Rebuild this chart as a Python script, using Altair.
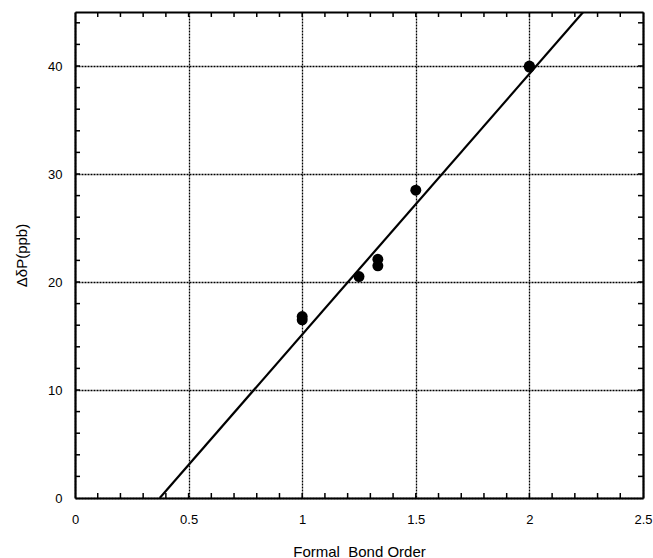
import altair as alt
import pandas as pd

# data points
bond_order = [1.0, 1.0, 1.25, 1.333, 1.333, 1.5, 2.0, 2.0]
delta_p = [16.8, 16.5, 20.5, 22.1, 21.5, 28.5, 40.0, 39.9]

# fitted line endpoints
fit_x = [0.373, 2.237]
fit_y = [0.0, 45.0]

x_major = [0, 0.5, 1, 1.5, 2, 2.5]
y_major = [0, 10, 20, 30, 40]
x_minor = [round(i * 0.1, 1) for i in range(1, 25)]
y_minor = [i * 2 for i in range(1, 23)]

pts = pd.DataFrame({"x": bond_order, "y": delta_p})
fit = pd.DataFrame({"x": fit_x, "y": fit_y})
xt = pd.DataFrame({"v": x_minor})
yt = pd.DataFrame({"v": y_minor})

W, H = 568, 486

xs = alt.Scale(domain=[0, 2.5], nice=False, zero=False)
ys = alt.Scale(domain=[0, 45], nice=False, zero=False)

font = "Liberation Sans"

dom = dict(domain=True, domainColor="black", domainWidth=2.2, domainOpacity=1)

xaxis = alt.Axis(values=x_major, format="~g", grid=True, gridDash=[2, 1], gridColor="black",
                 gridOpacity=1, gridWidth=1.3, ticks=False, **dom,
                 labelFont=font, labelFontSize=13, labelColor="black",
                 labelPadding=15, labelFlush=False,
                 title="Formal \u00a0Bond Order", titleFont=font, titleFontSize=15,
                 titleFontWeight="normal", titleColor="black", titlePadding=18)
yaxis = alt.Axis(values=y_major, format="d", grid=True, gridDash=[2, 1], gridColor="black",
                 gridOpacity=1, gridWidth=1.3, ticks=False, **dom,
                 labelFont=font, labelFontSize=13, labelColor="black",
                 labelPadding=13, labelFlush=False,
                 title="ΔδP(ppb)", titleFont=font, titleFontSize=15,
                 titleFontWeight="normal", titleColor="black", titlePadding=18)
xtop = alt.Axis(orient="top", values=x_major, grid=False, ticks=False, labels=False,
                title=None, **dom)
yright = alt.Axis(orient="right", values=y_major, grid=False, ticks=False, labels=False,
                  title=None, **dom)

points = alt.Chart(pts).mark_circle(size=120, color="black", opacity=1).encode(
    x=alt.X("x:Q", scale=xs, axis=xaxis),
    y=alt.Y("y:Q", scale=ys, axis=yaxis),
)
line = alt.Chart(fit).mark_line(color="black", strokeWidth=2.2, clip=True).encode(
    x=alt.X("x:Q", scale=xs, axis=xtop), y=alt.Y("y:Q", scale=ys, axis=yright)
)

tick_len = 5
bot = alt.Chart(xt).mark_rule(color="black", strokeWidth=1.5).encode(
    x=alt.X("v:Q", scale=xs, axis=None), y=alt.value(H), y2=alt.value(H - tick_len))
top = alt.Chart(xt).mark_rule(color="black", strokeWidth=1.5).encode(
    x=alt.X("v:Q", scale=xs, axis=None), y=alt.value(0), y2=alt.value(tick_len))
left = alt.Chart(yt).mark_rule(color="black", strokeWidth=1.5).encode(
    y=alt.Y("v:Q", scale=ys, axis=None), x=alt.value(0), x2=alt.value(tick_len))
right = alt.Chart(yt).mark_rule(color="black", strokeWidth=1.5).encode(
    y=alt.Y("v:Q", scale=ys, axis=None), x=alt.value(W), x2=alt.value(W - tick_len))

chart = alt.layer(bot, top, left, right, line, points).resolve_axis(
    x="independent", y="independent"
).properties(
    width=W, height=H,
    background="white",
    autosize=alt.AutoSizeParams(type="none"),
    padding={"left": 75, "top": 12, "right": 10, "bottom": 60},
).configure_view(stroke=None)

chart.save("out.html", embed_options={"renderer": "svg", "actions": False})
